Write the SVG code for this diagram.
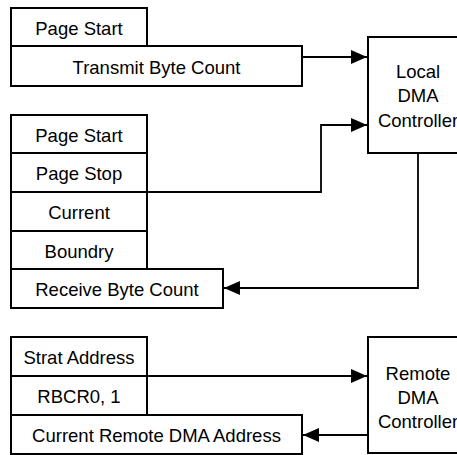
<svg xmlns="http://www.w3.org/2000/svg" width="457" height="455" viewBox="0 0 457 455">
<style>
.box{fill:#fff;stroke:#000;stroke-width:2}
.t{font-family:"Liberation Sans",Arial,sans-serif;font-size:18.5px;fill:#000;text-anchor:middle}
.c{fill:none;stroke:#000;stroke-width:1.8}
</style>
<defs>
<marker id="ah" markerUnits="userSpaceOnUse" markerWidth="17" markerHeight="15" refX="16" refY="7" orient="auto">
<path d="M0,0 L16,7 L0,14 z" fill="#000"/>
</marker>
</defs>
<rect width="457" height="455" fill="#fff"/>
<g id="connectors">
<path class="c" d="M302,57 H367" marker-end="url(#ah)"/>
<path class="c" d="M147,192 H321 V125 H367" marker-end="url(#ah)"/>
<path class="c" d="M418,153 V288 H224" marker-end="url(#ah)"/>
<path class="c" d="M147,376 H367" marker-end="url(#ah)"/>
<path class="c" d="M368,435 H303" marker-end="url(#ah)"/>
</g>
<g id="pageStart1"><rect class="box" x="11" y="8" width="136" height="38"/><text class="t" x="79" y="35">Page Start</text></g>
<g id="transmitByteCount"><rect class="box" x="11" y="46" width="291" height="40"/><text class="t" x="156.5" y="74">Transmit Byte Count</text></g>
<g id="pageStart2"><rect class="box" x="11" y="115" width="136" height="38"/><text class="t" x="79" y="142">Page Start</text></g>
<g id="pageStop"><rect class="box" x="11" y="153" width="136" height="39"/><text class="t" x="79" y="180">Page Stop</text></g>
<g id="current"><rect class="box" x="11" y="192" width="136" height="39"/><text class="t" x="79" y="219">Current</text></g>
<g id="boundry"><rect class="box" x="11" y="231" width="136" height="38"/><text class="t" x="79" y="258">Boundry</text></g>
<g id="receiveByteCount"><rect class="box" x="11" y="269" width="212" height="39"/><text class="t" x="117" y="296">Receive Byte Count</text></g>
<g id="stratAddress"><rect class="box" x="11" y="337" width="136" height="39"/><text class="t" x="79" y="364">Strat Address</text></g>
<g id="rbcr"><rect class="box" x="11" y="376" width="136" height="39"/><text class="t" x="79" y="403">RBCR0, 1</text></g>
<g id="currentRemote"><rect class="box" x="11" y="415" width="291" height="39"/><text class="t" x="156.5" y="442">Current Remote DMA Address</text></g>
<g id="localDMA"><rect class="box" x="368" y="37" width="100" height="116"/><text class="t" x="418" y="78">Local</text><text class="t" x="418" y="102">DMA</text><text class="t" x="418" y="127">Controller</text></g>
<g id="remoteDMA"><rect class="box" x="368" y="337" width="100" height="116"/><text class="t" x="418" y="380">Remote</text><text class="t" x="418" y="403.5">DMA</text><text class="t" x="418" y="428">Controller</text></g>
</svg>
